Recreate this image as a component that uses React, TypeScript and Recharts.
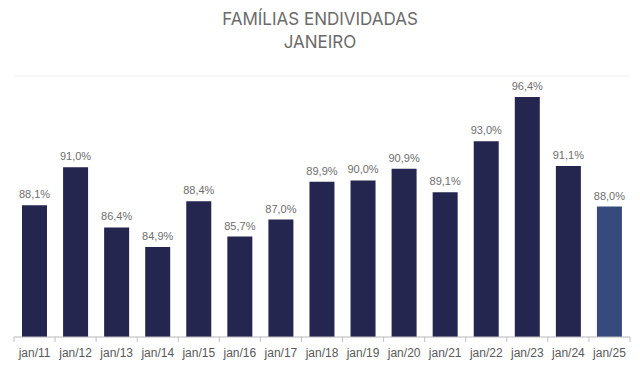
import React from "react";
import { BarChart, Bar, XAxis, YAxis, CartesianGrid, LabelList, Cell } from "recharts";

const categories = ["jan/11", "jan/12", "jan/13", "jan/14", "jan/15", "jan/16", "jan/17", "jan/18", "jan/19", "jan/20", "jan/21", "jan/22", "jan/23", "jan/24", "jan/25"];
const values = [88.1, 91.0, 86.4, 84.9, 88.4, 85.7, 87.0, 89.9, 90.0, 90.9, 89.1, 93.0, 96.4, 91.1, 88.0];
const yTicks = [78, 80, 82, 84, 86, 88, 90, 92, 94, 96, 98];

const data = categories.map((name, i) => ({ name, value: values[i] }));

const fmt = (v: number) => v.toFixed(1).replace(".", ",") + "%";

function BandTick(props: any) {
  const { x, y, payload, index } = props;
  const half = payload.offset || 0;
  const last = index === categories.length - 1;
  return (
    <g>
      <line x1={x - half} y1={y - 8} x2={x - half} y2={y - 3} stroke="#bfbfbf" />
      {last && <line x1={x + half} y1={y - 8} x2={x + half} y2={y - 3} stroke="#bfbfbf" />}
      <text x={x} y={y + 12} textAnchor="middle" fontSize={12} fill="#595959" fontFamily="Liberation Sans, Arial, sans-serif">
        {payload.value}
      </text>
    </g>
  );
}

export default function App() {
  return (
    <div style={{ position: "absolute", left: 0, top: 0, width: 640, height: 376, background: "#fff" }}>
      <div
        style={{
          position: "absolute",
          top: 8,
          left: 0,
          width: 640,
          textAlign: "center",
          fontFamily: "Inter, Lato, sans-serif",
          fontSize: 17,
          lineHeight: "23px",
          color: "#6b6b6b",
        }}
      >
        FAMÍLIAS ENDIVIDADAS
        <br />
        JANEIRO
      </div>
      <BarChart width={640} height={376} data={data} margin={{ top: 76, right: 10, left: 14, bottom: 0 }}>
        <CartesianGrid vertical={false} stroke="#f0f0f0" />
        <YAxis width={0} domain={[78, 98]} ticks={yTicks} interval={0} tick={false} axisLine={false} tickLine={false} />
        <XAxis
          dataKey="name"
          axisLine={{ stroke: "#bfbfbf" }}
          tickLine={false}
          tick={<BandTick />}
          interval={0}
          height={39}
        />
        <Bar dataKey="value" barSize={25} isAnimationActive={false}>
          {data.map((d, i) => (
            <Cell key={d.name} fill={i === data.length - 1 ? "#374a7e" : "#25264f"} />
          ))}
          <LabelList
            dataKey="value"
            position="top"
            offset={7}
            formatter={(v: any) => fmt(Number(v))}
            style={{ fontSize: 11, fill: "#6e6e6e", fontFamily: "Liberation Sans, Arial, sans-serif" }}
          />
        </Bar>
      </BarChart>
    </div>
  );
}
